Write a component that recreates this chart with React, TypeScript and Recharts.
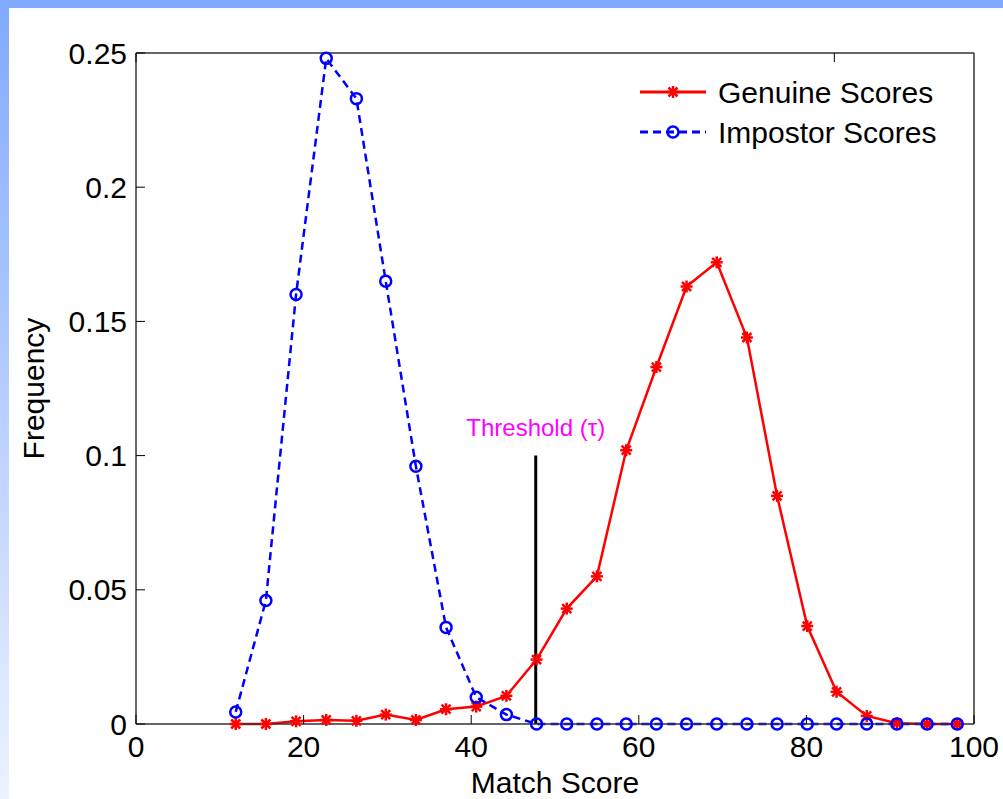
import React from "react";
import { Label, Line, LineChart, ReferenceLine, XAxis, YAxis } from "recharts";

// match-score bins (bin centres) and the two score histograms
const scoreBins = [
  11.9, 15.5, 19.1, 22.7, 26.3, 29.8, 33.4, 37.0, 40.6, 44.2, 47.8, 51.4, 55.0,
  58.5, 62.1, 65.7, 69.3, 72.9, 76.5, 80.1, 83.6, 87.2, 90.8, 94.4, 98.0,
];
const genuineScores = [
  0, 0, 0.001, 0.0015, 0.0012, 0.0035, 0.0015, 0.0055, 0.0065, 0.0105, 0.024, 0.043, 0.055,
  0.102, 0.133, 0.163, 0.172, 0.144, 0.085, 0.0365, 0.012, 0.003, 0.0003, 0, 0,
];
const impostorScores = [
  0.0045, 0.046, 0.16, 0.248, 0.233, 0.165, 0.096, 0.036, 0.01, 0.0035, 0, 0, 0,
  0, 0, 0, 0, 0, 0, 0, 0, 0, 0, 0, 0,
];
const xTicks = [0, 20, 40, 60, 80, 100];
const yTicks = [0, 0.05, 0.1, 0.15, 0.2, 0.25];
const thresholdScore = 47.7;
const thresholdTop = 0.1;

const FONT = '"Liberation Sans", Arial, Helvetica, sans-serif';
const TICK_LEN = 9;

const data = scoreBins.map((score, i) => ({
  score,
  genuine: genuineScores[i],
  impostor: impostorScores[i],
}));

function StarMark(props: any) {
  const { cx, cy } = props;
  if (cx == null || cy == null) return null;
  const r = 6;
  const d = 4.5;
  return (
    <g stroke="#ff0000" strokeWidth={2.5}>
      <line x1={cx - r} y1={cy} x2={cx + r} y2={cy} />
      <line x1={cx} y1={cy - r} x2={cx} y2={cy + r} />
      <line x1={cx - d} y1={cy - d} x2={cx + d} y2={cy + d} />
      <line x1={cx - d} y1={cy + d} x2={cx + d} y2={cy - d} />
    </g>
  );
}

function CircleMark(props: any) {
  const { cx, cy } = props;
  if (cx == null || cy == null) return null;
  return <circle cx={cx} cy={cy} r={5.5} fill="none" stroke="#0000ff" strokeWidth={2.5} />;
}

function BottomTick(props: any) {
  const { x, y, payload } = props;
  const axisY = y - 12;
  return (
    <g>
      <line x1={x} y1={axisY} x2={x} y2={axisY - TICK_LEN} stroke="#000" strokeWidth={1} />
      <text x={x} y={axisY + 33} textAnchor="middle" fill="#000" fontSize={30} fontFamily={FONT}>
        {payload.value}
      </text>
    </g>
  );
}

function LeftTick(props: any) {
  const { x, y, payload } = props;
  const axisX = x + 9;
  return (
    <g>
      <line x1={axisX} y1={y} x2={axisX + TICK_LEN} y2={y} stroke="#000" strokeWidth={1} />
      <text x={x} y={y + 10.5} textAnchor="end" fill="#000" fontSize={30} fontFamily={FONT}>
        {payload.value}
      </text>
    </g>
  );
}

function TopTick(props: any) {
  const { x, y } = props;
  return <line x1={x} y1={y} x2={x} y2={y + TICK_LEN} stroke="#000" strokeWidth={1} />;
}

function RightTick(props: any) {
  const { x, y } = props;
  return <line x1={x - TICK_LEN} y1={y} x2={x} y2={y} stroke="#000" strokeWidth={1} />;
}

function ScoreLegend() {
  return (
    <svg width={330} height={90} style={{ display: "block" }}>
      <g>
        <line x1={4} y1={22} x2={70} y2={22} stroke="#ff0000" strokeWidth={3} />
        <StarMark cx={37} cy={22} />
        <text x={82} y={33} fontSize={30} fontFamily={FONT} fill="#000">
          Genuine Scores
        </text>
      </g>
      <g>
        <line x1={4} y1={62} x2={70} y2={62} stroke="#0000ff" strokeWidth={3} strokeDasharray="8 5" />
        <CircleMark cx={37} cy={62} />
        <text x={82} y={73} fontSize={30} fontFamily={FONT} fill="#000">
          Impostor Scores
        </text>
      </g>
    </svg>
  );
}

export default function App() {
  return (
    <div
      style={{
        position: "absolute",
        top: 0,
        left: 0,
        width: 1003,
        height: 799,
        background: "#ffffff",
        overflow: "hidden",
      }}
    >
      <div style={{ position: "absolute", top: 0, left: 0, width: 1003, height: 8, background: "#80aaff" }} />
      <div
        style={{
          position: "absolute",
          top: 0,
          left: 0,
          width: 9,
          height: 799,
          background: "linear-gradient(to bottom, #80aaff, #edf2ff)",
        }}
      />
      <div style={{ position: "absolute", top: 0, left: 0 }}>
        <LineChart width={1003} height={799} data={data} margin={{ top: 52, right: 28, bottom: 0, left: 0 }}>
          <XAxis
            dataKey="score"
            type="number"
            domain={[0, 100]}
            ticks={xTicks}
            height={75}
            stroke="#333"
            strokeWidth={1.5}
            tickLine={false}
            tickSize={0}
            tickMargin={12}
            tick={<BottomTick />}
            interval={0}
          >
            <Label
              value="Match Score"
              position="insideBottom"
              offset={6}
              fill="#000"
              fontSize={30}
              fontFamily={FONT}
            />
          </XAxis>
          <XAxis
            xAxisId="top"
            orientation="top"
            type="number"
            domain={[0, 100]}
            ticks={xTicks}
            height={1}
            stroke="#333"
            strokeWidth={1.5}
            tickLine={false}
            tickSize={0}
            tickMargin={0}
            tick={<TopTick />}
            interval={0}
          />
          <YAxis
            type="number"
            domain={[0, 0.25]}
            ticks={yTicks}
            width={136}
            stroke="#333"
            strokeWidth={1.5}
            tickLine={false}
            tickSize={0}
            tickMargin={9}
            tick={<LeftTick />}
            interval={0}
          >
            <Label
              value="Frequency"
              angle={-90}
              position="center"
              dx={-35}
              fill="#000"
              fontSize={30}
              fontFamily={FONT}
            />
          </YAxis>
          <YAxis
            yAxisId="right"
            orientation="right"
            type="number"
            domain={[0, 0.25]}
            ticks={yTicks}
            width={1}
            stroke="#333"
            strokeWidth={1.5}
            tickLine={false}
            tickSize={0}
            tickMargin={0}
            tick={<RightTick />}
            interval={0}
          />
          <Line
            dataKey="genuine"
            type="linear"
            stroke="#ff0000"
            strokeWidth={2.5}
            dot={<StarMark />}
            activeDot={false}
            isAnimationActive={false}
          />
          <Line
            dataKey="impostor"
            type="linear"
            stroke="#0000ff"
            strokeWidth={2.5}
            strokeDasharray="8 5"
            dot={<CircleMark />}
            activeDot={false}
            isAnimationActive={false}
          />
          <ReferenceLine
            segment={[
              { x: thresholdScore, y: thresholdTop },
              { x: thresholdScore, y: 0 },
            ]}
            stroke="#000"
            strokeWidth={3}
            ifOverflow="visible"
            label={{
              value: "Threshold (τ)",
              position: "top",
              offset: 20,
              fill: "#ff00ff",
              fontSize: 24,
              fontFamily: FONT,
            }}
          />
        </LineChart>
      </div>
      <div style={{ position: "absolute", top: 70, left: 636 }}>
        <ScoreLegend />
      </div>
    </div>
  );
}
